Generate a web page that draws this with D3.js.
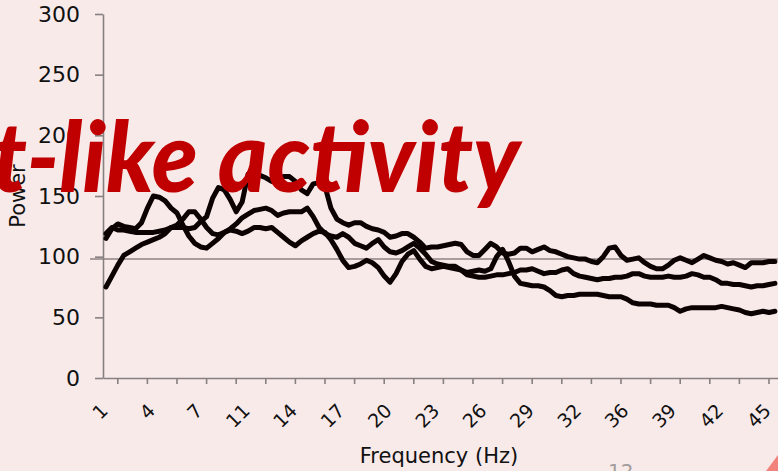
<!DOCTYPE html>
<html>
<head>
<meta charset="utf-8">
<script src="https://cdnjs.cloudflare.com/ajax/libs/d3/7.8.5/d3.min.js"></script>
<style>
  html, body { margin: 0; padding: 0; background: #f8e9e9; }
  #chart { width: 778px; height: 471px; overflow: hidden; }
</style>
</head>
<body>
<div id="chart"></div>
<script>
// Frequency bins (Hz), one per category on the x axis
const freqs = [
  1.17, 1.56, 1.95, 2.34, 2.73, 3.13, 3.52, 3.91, 4.30, 4.69,
  5.08, 5.47, 5.86, 6.25, 6.64, 7.03, 7.42, 7.81, 8.20, 8.59,
  8.98, 9.38, 9.77, 10.16, 10.55, 10.94, 11.33, 11.72, 12.11, 12.50,
  12.89, 13.28, 13.67, 14.06, 14.45, 14.84, 15.23, 15.63, 16.02, 16.41,
  16.80, 17.19, 17.58, 17.97, 18.36, 18.75, 19.14, 19.53, 19.92, 20.31,
  20.70, 21.09, 21.48, 21.88, 22.27, 22.66, 23.05, 23.44, 23.83, 24.22,
  24.61, 25.00, 25.39, 25.78, 26.17, 26.56, 26.95, 27.34, 27.73, 28.13,
  28.52, 28.91, 29.30, 29.69, 30.08, 30.47, 30.86, 31.25, 31.64, 32.03,
  32.42, 32.81, 33.20, 33.59, 33.98, 34.38, 34.77, 35.16, 35.55, 35.94,
  36.33, 36.72, 37.11, 37.50, 37.89, 38.28, 38.67, 39.06, 39.45, 39.84,
  40.23, 40.63, 41.02, 41.41, 41.80, 42.19, 42.58, 42.97, 43.36, 43.75,
  44.14, 44.53, 44.92, 45.31
];

// Power per bin, three recordings
const powerA = [
  119, 124, 122, 122, 121, 120, 120, 120, 120, 121,
  122, 124, 124, 124, 123, 124, 129, 133, 148, 157,
  155, 147, 137, 145, 168, 170, 167, 165, 162, 163,
  166, 166, 162, 155, 152, 160, 161, 158, 140, 131,
  128, 126, 128, 128, 125, 123, 122, 120, 116, 117,
  119, 119, 116, 112, 107, 108, 108, 109, 110, 111,
  110, 104, 101, 101, 106, 111, 108, 103, 102, 103,
  107, 107, 104, 106, 108, 105, 104, 102, 100, 99,
  98, 98, 96, 95, 100, 107, 108, 101, 97, 98,
  99, 95, 92, 90, 90, 93, 97, 99, 97, 95,
  98, 101, 99, 97, 96, 94, 95, 93, 91, 95,
  95, 95, 96, 96
];

const powerB = [
  115, 123, 127, 125, 124, 123, 128, 140, 150, 149,
  146, 140, 136, 126, 117, 111, 108, 107, 111, 115,
  120, 123, 127, 132, 135, 138, 139, 140, 138, 134,
  136, 137, 137, 137, 140, 133, 124, 119, 117, 116,
  119, 116, 111, 109, 107, 111, 114, 108, 104, 103,
  105, 108, 111, 107, 102, 96, 94, 93, 92, 92,
  89, 85, 84, 83, 83, 84, 85, 85, 86, 87,
  89, 89, 90, 88, 86, 87, 87, 89, 90, 86,
  84, 83, 82, 81, 82, 82, 83, 83, 84, 86,
  86, 84, 83, 83, 83, 84, 83, 83, 84, 86,
  85, 83, 83, 81, 78, 78, 77, 77, 76, 75,
  76, 76, 77, 78
];

const powerC = [
  75, 84, 93, 101, 104, 107, 110, 112, 114, 116,
  119, 124, 126, 131, 137, 137, 131, 124, 119, 118,
  120, 122, 121, 119, 121, 124, 124, 123, 124, 120,
  116, 112, 109, 113, 116, 119, 121, 120, 114, 106,
  97, 91, 92, 94, 97, 95, 91, 84, 79, 86,
  96, 102, 105, 98, 92, 90, 91, 92, 91, 90,
  89, 87, 88, 89, 88, 90, 100, 106, 96, 84,
  78, 77, 76, 76, 75, 72, 68, 67, 68, 68,
  69, 69, 69, 69, 68, 67, 67, 67, 65, 62,
  61, 61, 61, 60, 60, 60, 58, 55, 57, 58,
  58, 58, 58, 58, 59, 58, 57, 56, 54, 53,
  54, 55, 54, 55
];

const yTicks = [0, 50, 100, 150, 200, 250, 300];
const refLevel = 98;
const xLabelStep = 8;   // one label every 8 bins
const xTickStep = 5;    // one tick mark every 5 bins
const xTickOffset = 2;

const titleText = 't-like activity';
const slideNumber = '12';

class SpectrumChart {
  constructor(containerId) {
    this.containerId = containerId;
    this.width = 778;
    this.height = 471;
    this.plot = { left: 103, right: 778, top: 14, bottom: 378 };
    this.font = "'DejaVu Sans', sans-serif";
    this.axisColor = '#878080';
  }

  render() {
    const svg = d3.select(`#${this.containerId}`)
      .append('svg')
      .attr('width', this.width)
      .attr('height', this.height);

    svg.append('rect')
      .attr('width', this.width)
      .attr('height', this.height)
      .attr('fill', '#f9eaea');

    const xScale = d3.scaleBand()
      .domain(freqs)
      .range([this.plot.left, this.plot.left + freqs.length * 5.92]);

    const yScale = d3.scaleLinear()
      .domain([0, 300])
      .range([this.plot.bottom, this.plot.top]);

    this.drawAxes(svg, xScale, yScale);
    this.drawReferenceLine(svg, yScale);
    [powerA, powerB, powerC].forEach(s => this.drawSeries(svg, s, xScale, yScale));
    this.drawSlideDecor(svg);
  }

  drawAxes(svg, xScale, yScale) {
    const yAxis = svg.append('g')
      .attr('transform', `translate(${this.plot.left},0)`)
      .call(d3.axisLeft(yScale).tickValues(yTicks).tickSize(8).tickSizeOuter(0).tickPadding(15));
    yAxis.selectAll('path, line').attr('stroke', this.axisColor).attr('stroke-width', 1.6);
    yAxis.selectAll('text')
      .attr('fill', '#111')
      .style('font-family', this.font)
      .style('font-size', '22px');

    const tickVals = freqs.filter((d, i) => i % xTickStep === xTickOffset);
    const xAxis = svg.append('g')
      .attr('transform', `translate(0,${this.plot.bottom})`)
      .call(d3.axisBottom(xScale).tickValues(tickVals).tickFormat('').tickSize(6).tickSizeOuter(0));
    xAxis.selectAll('path, line').attr('stroke', this.axisColor).attr('stroke-width', 1.6);

    // rotated category labels
    const bw = xScale.bandwidth();
    svg.append('g')
      .selectAll('text')
      .data(freqs.filter((d, i) => i % xLabelStep === 0))
      .join('text')
      .attr('transform', d => `translate(${xScale(d) + bw / 2 + 3},412) rotate(-45)`)
      .attr('text-anchor', 'end')
      .attr('fill', '#111')
      .style('font-family', this.font)
      .style('font-size', '19px')
      .text(d => Math.round(d));

    svg.append('text')
      .attr('x', 439)
      .attr('y', 463)
      .attr('text-anchor', 'middle')
      .attr('fill', '#111')
      .style('font-family', this.font)
      .style('font-size', '21px')
      .text('Frequency (Hz)');

    svg.append('text')
      .attr('transform', `translate(25,${(this.plot.top + this.plot.bottom) / 2}) rotate(-90)`)
      .attr('text-anchor', 'middle')
      .attr('fill', '#111')
      .style('font-family', this.font)
      .style('font-size', '21px')
      .text('Power');
  }

  drawReferenceLine(svg, yScale) {
    svg.append('line')
      .attr('x1', 90)
      .attr('x2', this.width)
      .attr('y1', yScale(refLevel))
      .attr('y2', yScale(refLevel))
      .attr('stroke', '#8c8282')
      .attr('stroke-width', 1.5);
  }

  drawSeries(svg, values, xScale, yScale) {
    const bw = xScale.bandwidth();
    const line = d3.line()
      .x((d, i) => xScale(freqs[i]) + bw / 2)
      .y(d => yScale(d));

    svg.append('path')
      .datum(values)
      .attr('d', line)
      .attr('fill', 'none')
      .attr('stroke', '#0c0202')
      .attr('stroke-width', 5)
      .attr('stroke-linejoin', 'round')
      .attr('stroke-linecap', 'round');
  }

  drawSlideDecor(svg) {
    // slide title sits on top of the pasted chart
    svg.append('text')
      .attr('x', -8)
      .attr('y', 192)
      .attr('textLength', 528)
      .attr('lengthAdjust', 'spacingAndGlyphs')
      .attr('fill', '#c00000')
      .style('font-family', "Lato, 'DejaVu Sans', sans-serif")
      .style('font-weight', 900)
      .style('font-style', 'italic')
      .style('font-size', '97px')
      .text(titleText);

    svg.append('text')
      .attr('x', 608)
      .attr('y', 478)
      .attr('fill', '#a39c9c')
      .style('font-family', this.font)
      .style('font-size', '20px')
      .text(slideNumber);

    svg.append('polygon')
      .attr('points', '766,471 778,455 778,471')
      .attr('fill', '#f2827c');
  }
}

new SpectrumChart('chart').render();
</script>
</body>
</html>
